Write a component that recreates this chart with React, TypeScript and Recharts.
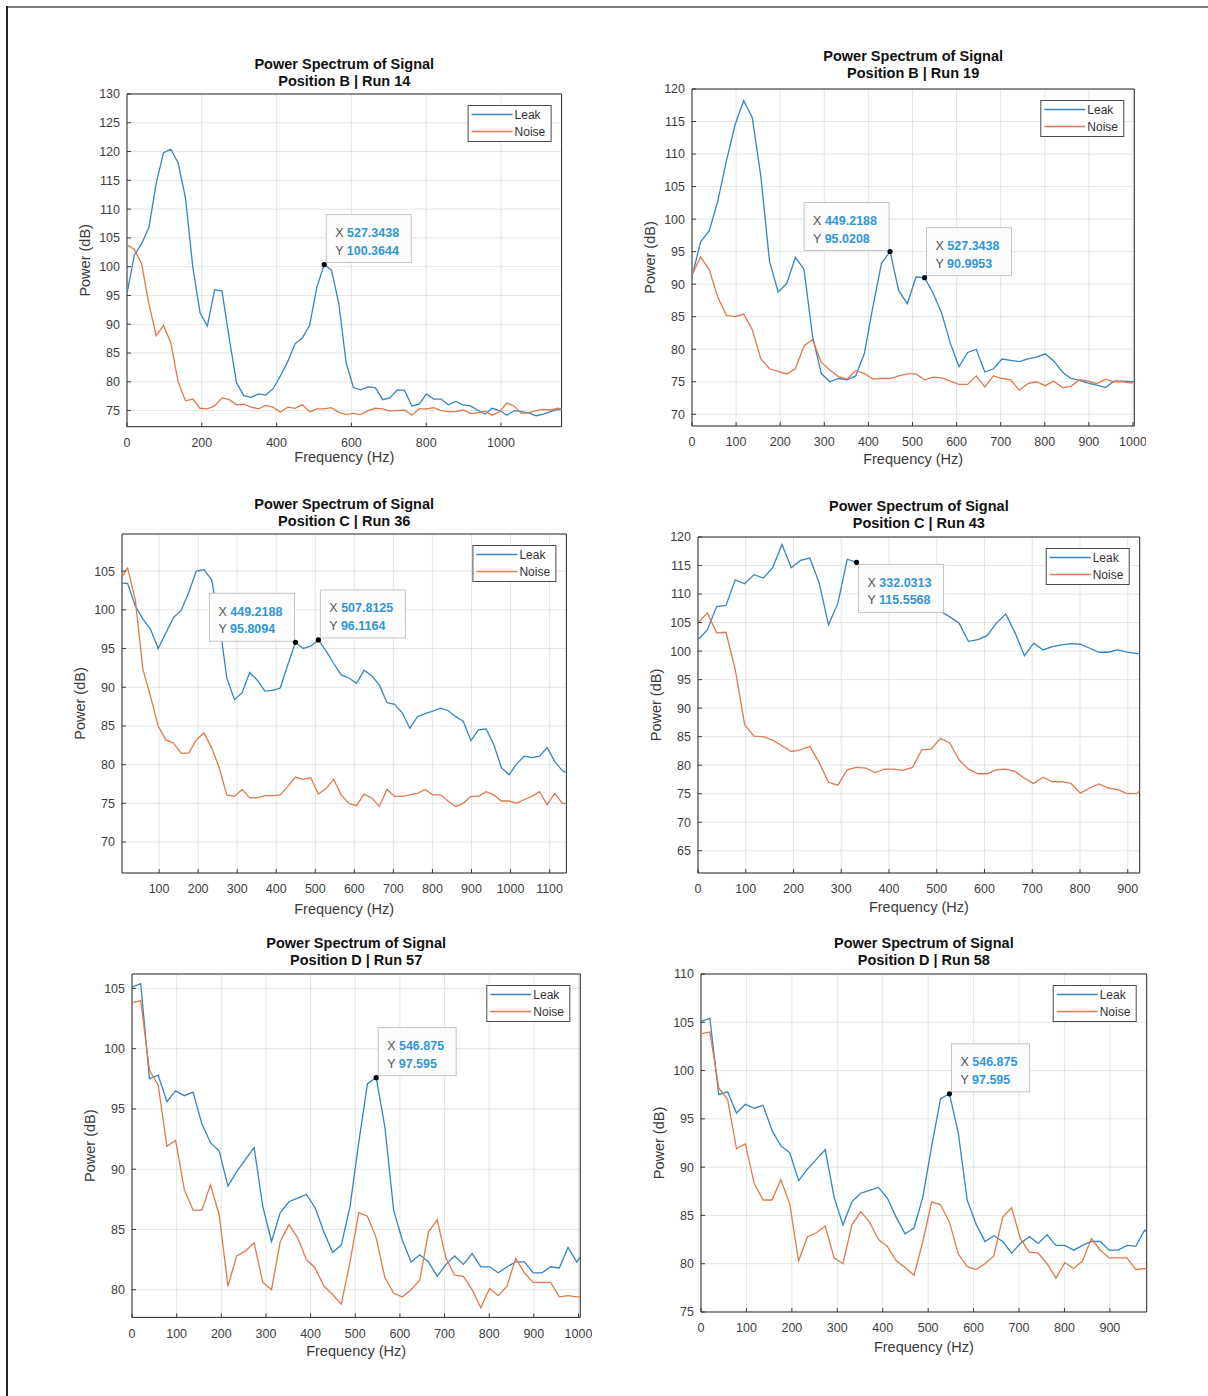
import React from 'react'
import { LineChart, Line, XAxis, YAxis, CartesianGrid, ReferenceArea, ReferenceDot } from 'recharts'

const FONT = '"Liberation Sans", Arial, Helvetica, sans-serif'
const LEAK_COLOR = '#3485c0'
const NOISE_COLOR = '#df7a4d'
const BOX_COLOR = '#2a2a2a'

// FFT bin centres (Hz)
const FREQ = [
  0, 19.5313, 39.0625, 58.5938, 78.125, 97.6563, 117.1875, 136.7188, 156.25, 175.7813,
  195.3125, 214.8438, 234.375, 253.9063, 273.4375, 292.9688, 312.5, 332.0313, 351.5625, 371.0938,
  390.625, 410.1563, 429.6875, 449.2188, 468.75, 488.2813, 507.8125, 527.3438, 546.875, 566.4063,
  585.9375, 605.4688, 625, 644.5313, 664.0625, 683.5938, 703.125, 722.6563, 742.1875, 761.7188,
  781.25, 800.7813, 820.3125, 839.8438, 859.375, 878.9063, 898.4375, 917.9688, 937.5, 957.0313,
  976.5625, 996.0938, 1015.625, 1035.1563, 1054.6875, 1074.2188, 1093.75, 1113.2813, 1132.8125, 1152.3438,
  1171.875,
]

// Position B | Run 14
const leakB14 = [
  95.3, 102.0, 104.0, 106.8, 114.5, 119.8, 120.4, 118.0, 112.0, 100.0,
  92.0, 89.7, 96.0, 95.8, 87.5, 79.8, 77.6, 77.3, 77.9, 77.7,
  78.8, 81.0, 83.5, 86.6, 87.6, 89.8, 96.5, 100.3644, 99.4, 93.6,
  83.3, 79.0, 78.6, 79.1, 79.0, 76.9, 77.2, 78.6, 78.5, 75.8,
  76.1, 77.9, 77.0, 77.0, 76.0, 76.6, 76.0, 75.8, 75.1, 74.4,
  75.4, 75.0, 74.2, 75.0, 74.8, 74.6, 74.1, 74.4, 74.8, 75.2, 75.1,
]
const noiseB14 = [
  103.8, 103.0, 100.5, 93.5, 88.0, 89.8, 86.8, 80.0, 76.7, 77.0,
  75.4, 75.3, 75.8, 77.2, 76.9, 76.0, 76.1, 75.6, 75.3, 75.9,
  75.6, 74.7, 75.6, 75.4, 76.0, 74.8, 75.3, 75.3, 75.5, 74.7,
  74.3, 74.5, 74.3, 75.0, 75.4, 75.3, 74.9, 75.0, 75.1, 74.2,
  75.3, 75.3, 75.5, 75.0, 74.8, 74.8, 75.1, 74.5, 74.6, 74.9,
  74.2, 74.8, 76.3, 75.8, 74.5, 74.6, 75.0, 75.2, 75.1, 75.4, 75.0,
]

// Position B | Run 19
const leakB19 = [
  91.2, 96.5, 98.2, 102.8, 109.0, 114.5, 118.2, 115.6, 106.5, 93.5,
  88.8, 90.1, 94.1, 92.3, 82.0, 76.3, 75.0, 75.5, 75.3, 75.9,
  79.3, 86.5, 93.2, 95.0208, 89.0, 87.0, 91.1, 90.9953, 88.6, 85.5,
  80.9, 77.3, 79.5, 80.0, 76.5, 77.0, 78.5, 78.3, 78.1, 78.5,
  78.8, 79.3, 78.2, 76.5, 75.5, 75.2, 74.8, 74.5, 74.1, 75.1,
  75.1, 75.0, 75.0,
]
const noiseB19 = [
  91.4, 94.2, 92.2, 88.0, 85.2, 85.0, 85.4, 83.0, 78.5, 77.0,
  76.6, 76.2, 77.0, 80.5, 81.5, 78.0, 76.8, 75.8, 75.4, 76.7,
  76.3, 75.4, 75.5, 75.5, 75.9, 76.2, 76.2, 75.3, 75.7, 75.6,
  75.1, 74.6, 74.6, 75.9, 74.2, 75.9, 75.5, 75.3, 73.7, 74.7,
  75.0, 74.4, 75.1, 74.1, 74.3, 75.3, 75.1, 74.7, 75.4, 75.0,
  75.0, 74.8, 75.2,
]

// Position C | Run 36
const leakC36 = [
  103.5, 103.4, 100.5, 98.8, 97.5, 95.0, 97.0, 99.0, 99.9, 102.2,
  105.0, 105.2, 103.9, 98.5, 91.2, 88.4, 89.3, 91.9, 90.9, 89.5,
  89.6, 89.9, 92.9, 95.8094, 95.0, 95.3, 96.1164, 94.7, 93.1, 91.6,
  91.2, 90.5, 92.2, 91.5, 90.3, 88.0, 87.8, 86.7, 84.7, 86.2,
  86.6, 86.9, 87.3, 87.0, 86.2, 85.6, 83.1, 84.5, 84.6, 82.6,
  79.6, 78.7, 80.1, 81.1, 80.9, 81.1, 82.2, 80.4, 79.2, 78.8,
]
const noiseC36 = [
  103.9, 105.4, 101.3, 92.3, 88.8, 85.0, 83.2, 82.8, 81.5, 81.5,
  83.2, 84.1, 82.2, 79.6, 76.1, 75.9, 76.8, 75.7, 75.7, 76.0,
  76.0, 76.1, 77.2, 78.4, 78.1, 78.3, 76.2, 76.9, 78.1, 76.1,
  75.0, 74.7, 76.2, 75.7, 74.6, 76.8, 75.9, 75.9, 76.1, 76.3,
  76.8, 76.1, 76.1, 75.3, 74.6, 75.0, 75.9, 75.9, 76.5, 76.1,
  75.3, 75.3, 75.0, 75.5, 75.9, 76.5, 74.8, 76.3, 75.0, 75.0,
]

// Position C | Run 43
const leakC43 = [
  102.0, 103.7, 107.8, 108.0, 112.5, 111.8, 113.4, 112.8, 114.6, 118.7,
  114.6, 115.9, 116.3, 111.9, 104.6, 108.4, 116.1, 115.5568, 113.5, 111.8,
  110.5, 109.5, 108.6, 108.0, 107.6, 107.3, 107.0, 106.0, 104.9, 101.7,
  102.0, 102.7, 104.9, 106.5, 103.2, 99.2, 101.4, 100.2, 100.8, 101.1,
  101.3, 101.2, 100.5, 99.8, 99.8, 100.2, 99.8, 99.6, 99.4,
]
const noiseC43 = [
  104.9, 106.7, 103.2, 103.3, 96.7, 87.1, 85.1, 85.0, 84.4, 83.4,
  82.4, 82.7, 83.3, 80.4, 77.0, 76.5, 79.2, 79.6, 79.5, 78.7,
  79.3, 79.3, 79.1, 79.6, 82.7, 82.8, 84.7, 83.9, 80.9, 79.3,
  78.5, 78.5, 79.2, 79.3, 78.9, 77.7, 76.8, 77.9, 77.1, 77.1,
  76.8, 75.1, 76.0, 76.7, 76.0, 75.7, 75.0, 75.0, 76.3,
]

// Position D | Run 57 (Run 58 shows the same spectra)
const leakD57 = [
  105.1, 105.4, 97.5, 97.8, 95.6, 96.5, 96.1, 96.4, 93.8, 92.2,
  91.5, 88.6, 89.8, 90.8, 91.8, 86.9, 84.0, 86.4, 87.3, 87.6,
  87.9, 86.8, 84.8, 83.1, 83.7, 86.9, 92.2, 97.1, 97.595, 93.5,
  86.6, 84.1, 82.3, 82.9, 82.3, 81.1, 82.1, 82.8, 82.1, 83.0,
  81.9, 81.9, 81.4, 81.9, 82.3, 82.3, 81.4, 81.4, 81.9, 81.8,
  83.5, 82.3, 83.3,
]
const noiseD57 = [
  103.8, 104.0, 98.2, 97.0, 91.9, 92.4, 88.3, 86.6, 86.6, 88.7,
  86.2, 80.3, 82.8, 83.2, 83.9, 80.6, 80.0, 84.0, 85.4, 84.3,
  82.5, 81.8, 80.3, 79.6, 78.8, 82.3, 86.4, 86.1, 84.3, 81.0,
  79.7, 79.4, 80.0, 80.8, 84.8, 85.8, 82.6, 81.2, 81.1, 80.0,
  78.5, 80.1, 79.5, 80.3, 82.6, 81.4, 80.6, 80.6, 80.6, 79.4,
  79.5, 79.4, 79.4,
]

// tick labels
const xTicksB14 = [0, 200, 400, 600, 800, 1000]
const yTicksB14 = [75, 80, 85, 90, 95, 100, 105, 110, 115, 120, 125, 130]
const xTicksB19 = [0, 100, 200, 300, 400, 500, 600, 700, 800, 900, 1000]
const yTicksB19 = [70, 75, 80, 85, 90, 95, 100, 105, 110, 115, 120]
const xTicksC36 = [100, 200, 300, 400, 500, 600, 700, 800, 900, 1000, 1100]
const yTicksC36 = [70, 75, 80, 85, 90, 95, 100, 105]
const xTicksC43 = [0, 100, 200, 300, 400, 500, 600, 700, 800, 900]
const yTicksC43 = [65, 70, 75, 80, 85, 90, 95, 100, 105, 110, 115, 120]
const xTicksD57 = [0, 100, 200, 300, 400, 500, 600, 700, 800, 900, 1000]
const yTicksD57 = [80, 85, 90, 95, 100, 105]
const xTicksD58 = [0, 100, 200, 300, 400, 500, 600, 700, 800, 900]
const yTicksD58 = [75, 80, 85, 90, 95, 100, 105, 110]

// data tips
type Tip = { x: number; y: number; xs: string; ys: string; at: 'ur' | 'ul' | 'dr' }
const tipsB14: Tip[] = [{ x: 527.3438, y: 100.3644, xs: '527.3438', ys: '100.3644', at: 'ur' }]
const tipsB19: Tip[] = [
  { x: 449.2188, y: 95.0208, xs: '449.2188', ys: '95.0208', at: 'ul' },
  { x: 527.3438, y: 90.9953, xs: '527.3438', ys: '90.9953', at: 'ur' },
]
const tipsC36: Tip[] = [
  { x: 449.2188, y: 95.8094, xs: '449.2188', ys: '95.8094', at: 'ul' },
  { x: 507.8125, y: 96.1164, xs: '507.8125', ys: '96.1164', at: 'ur' },
]
const tipsC43: Tip[] = [{ x: 332.0313, y: 115.5568, xs: '332.0313', ys: '115.5568', at: 'dr' }]
const tipsD57: Tip[] = [{ x: 546.875, y: 97.595, xs: '546.875', ys: '97.595', at: 'ur' }]

function textW(s: string) {
  let w = 0
  for (const c of s) w += c === '.' ? 3.5 : 6.95
  return w
}

function TipMark({ cx, cy, tip }: { cx: number; cy: number; tip: Tip }) {
  const w = Math.round(33 + Math.max(textW(tip.xs), textW(tip.ys)))
  const h = 48
  let bx = cx + 2
  let by = cy - 2 - h
  if (tip.at === 'ul') { bx = cx - w - 1; by = cy - h - 1 }
  if (tip.at === 'dr') { bx = cx + 2; by = cy + 2 }
  return (
    <g>
      <rect x={bx} y={by} width={w} height={h} fill="#fcfcfc" stroke="#c4c4c4" strokeWidth={1} />
      <text x={bx + 9} y={by + 22.5} fontSize={12.5} fontFamily={FONT}>
        <tspan fill="#555">X </tspan>
        <tspan fill="#2f97d6" fontWeight="bold">{tip.xs}</tspan>
      </text>
      <text x={bx + 9} y={by + 40} fontSize={12.5} fontFamily={FONT}>
        <tspan fill="#555">Y </tspan>
        <tspan fill="#2f97d6" fontWeight="bold">{tip.ys}</tspan>
      </text>
      <circle cx={cx} cy={cy} r={2.6} fill="#000" />
    </g>
  )
}

type PanelProps = {
  title: string
  run: string
  leak: number[]
  noise: number[]
  box: [number, number, number, number]
  xDomain: [number, number]
  yDomain: [number, number]
  xTicks: number[]
  yTicks: number[]
  tips: Tip[]
  titleGap: number
  xLabelGap: number
}

function Panel(p: PanelProps) {
  const [x0, y0, x1, y1] = p.box
  const L = x0 - 70
  const T = y0 - 50
  const W = x1 - L + 12
  const H = y1 - y0 + 100
  const pw = x1 - x0
  const ph = y1 - y0
  const data = p.leak.map((v, i) => ({ f: FREQ[i], leak: v, noise: p.noise[i] }))
  const tick = { fontSize: 12.5, fill: '#3d3d3d', fontFamily: FONT }
  const tickLine = { stroke: BOX_COLOR, strokeWidth: 0.9 }
  const lgX = 70 + pw - 10 - 84
  const lgY = 50 + 11
  return (
    <div style={{ position: 'absolute', left: L, top: T, width: W, height: H }}>
      <LineChart width={W} height={H} data={data} margin={{ top: 50, right: 12, bottom: 0, left: 0 }}>
        <CartesianGrid stroke="#e2e2e2" strokeWidth={0.9} />
        <XAxis
          dataKey="f"
          type="number"
          domain={p.xDomain}
          ticks={p.xTicks}
          interval={0}
          allowDataOverflow
          height={50}
          tickSize={-4}
          tickMargin={15.5}
          tickLine={tickLine}
          axisLine={false}
          tick={tick}
        />
        <XAxis
          xAxisId="top"
          orientation="top"
          type="number"
          domain={p.xDomain}
          ticks={p.xTicks}
          interval={0}
          allowDataOverflow
          height={0}
          tickSize={-4}
          tickLine={tickLine}
          axisLine={false}
          tick={false}
        />
        <YAxis
          type="number"
          domain={p.yDomain}
          ticks={p.yTicks}
          interval={0}
          allowDataOverflow
          width={70}
          tickSize={-4}
          tickMargin={11}
          tickLine={tickLine}
          axisLine={false}
          tick={tick}
        />
        <YAxis
          yAxisId="right"
          orientation="right"
          type="number"
          domain={p.yDomain}
          ticks={p.yTicks}
          interval={0}
          allowDataOverflow
          width={0}
          tickSize={-4}
          tickLine={tickLine}
          axisLine={false}
          tick={false}
        />
        <ReferenceArea
          x1={p.xDomain[0]}
          x2={p.xDomain[1]}
          y1={p.yDomain[0]}
          y2={p.yDomain[1]}
          fill="none"
          fillOpacity={0}
          stroke={BOX_COLOR}
          strokeWidth={1}
          ifOverflow="visible"
        />
        <Line dataKey="leak" stroke={LEAK_COLOR} strokeWidth={1.3} dot={false} isAnimationActive={false} />
        <Line dataKey="noise" stroke={NOISE_COLOR} strokeWidth={1.3} dot={false} isAnimationActive={false} />
        {p.tips.map((t, i) => (
          <ReferenceDot
            key={i}
            x={t.x}
            y={t.y}
            r={2.6}
            ifOverflow="visible"
            shape={(s: any) => <TipMark cx={s.cx} cy={s.cy} tip={t} />}
          />
        ))}
      </LineChart>
      <svg
        width={W}
        height={H}
        style={{ position: 'absolute', left: 0, top: 0, pointerEvents: 'none', overflow: 'visible' }}
        fontFamily={FONT}
      >
        <text x={70 + pw / 2} y={50 - p.titleGap - 17} textAnchor="middle" fontSize={14.5} fontWeight="bold" fill="#111">
          {p.title}
        </text>
        <text x={70 + pw / 2} y={50 - p.titleGap} textAnchor="middle" fontSize={14.5} fontWeight="bold" fill="#111">
          {p.run}
        </text>
        <text x={70 + pw / 2} y={50 + ph + p.xLabelGap} textAnchor="middle" fontSize={14.5} fill="#3a3a3a">
          Frequency (Hz)
        </text>
        <text
          transform={`translate(33, ${50 + ph / 2}) rotate(-90)`}
          textAnchor="middle"
          fontSize={14.5}
          fill="#3a3a3a"
        >
          Power (dB)
        </text>
        <g transform={`translate(${lgX}, ${lgY})`}>
          <rect x={0.5} y={0.5} width={83} height={36} fill="#fff" stroke="#4a4a4a" strokeWidth={1} />
          <line x1={4} x2={45} y1={9.5} y2={9.5} stroke={LEAK_COLOR} strokeWidth={1.3} />
          <text x={47} y={13.5} fontSize={12} fill="#333">Leak</text>
          <line x1={4} x2={45} y1={26.5} y2={26.5} stroke={NOISE_COLOR} strokeWidth={1.3} />
          <text x={47} y={30.5} fontSize={12} fill="#333">Noise</text>
        </g>
      </svg>
    </div>
  )
}

export default function App() {
  const title = 'Power Spectrum of Signal'
  return (
    <div style={{ position: 'absolute', left: 0, top: 0, width: 1208, height: 1396, background: '#fff', overflow: 'hidden' }}>
      <div style={{ position: 'absolute', left: 7, top: 6, width: 1201, height: 2, background: '#7c7c7c' }} />
      <div style={{ position: 'absolute', left: 6, top: 6, width: 2, height: 1390, background: '#222' }} />
      <Panel
        title={title}
        run="Position B | Run 14"
        leak={leakB14}
        noise={noiseB14}
        box={[126.7, 94, 561.3, 426.7]}
        xDomain={[0, 1162]}
        yDomain={[72.2, 130]}
        xTicks={xTicksB14}
        yTicks={yTicksB14}
        tips={tipsB14}
        titleGap={8}
        xLabelGap={35}
      />
      <Panel
        title={title}
        run="Position B | Run 19"
        leak={leakB19}
        noise={noiseB19}
        box={[691.7, 89, 1134, 426]}
        xDomain={[0, 1003]}
        yDomain={[68.2, 120]}
        xTicks={xTicksB19}
        yTicks={yTicksB19}
        tips={tipsB19}
        titleGap={11}
        xLabelGap={38}
      />
      <Panel
        title={title}
        run="Position C | Run 36"
        leak={leakC36}
        noise={noiseC36}
        box={[122.3, 534.3, 566.7, 873.3]}
        xDomain={[5, 1143]}
        yDomain={[66, 109.8]}
        xTicks={xTicksC36}
        yTicks={yTicksC36}
        tips={tipsC36}
        titleGap={8.5}
        xLabelGap={40.5}
      />
      <Panel
        title={title}
        run="Position C | Run 43"
        leak={leakC43}
        noise={noiseC43}
        box={[698.3, 537.3, 1140, 873.3]}
        xDomain={[0, 925]}
        yDomain={[61.1, 120]}
        xTicks={xTicksC43}
        yTicks={yTicksC43}
        tips={tipsC43}
        titleGap={9}
        xLabelGap={38.5}
      />
      <Panel
        title={title}
        run="Position D | Run 57"
        leak={leakD57}
        noise={noiseD57}
        box={[131.7, 974.3, 580, 1317.7]}
        xDomain={[0, 1004]}
        yDomain={[77.7, 106.2]}
        xTicks={xTicksD57}
        yTicks={yTicksD57}
        tips={tipsD57}
        titleGap={9}
        xLabelGap={39}
      />
      <Panel
        title={title}
        run="Position D | Run 58"
        leak={leakD57}
        noise={noiseD57}
        box={[701, 974.3, 1146.7, 1312.3]}
        xDomain={[0, 981]}
        yDomain={[75, 110]}
        xTicks={xTicksD58}
        yTicks={yTicksD58}
        tips={tipsD57}
        titleGap={9}
        xLabelGap={39.5}
      />
    </div>
  )
}
